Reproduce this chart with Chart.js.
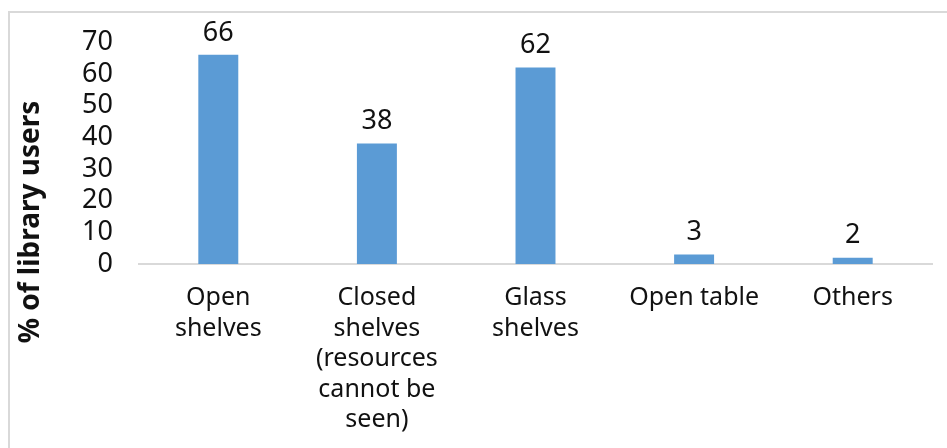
<!DOCTYPE html>
<html>
<head>
<meta charset="utf-8">
<script src="https://cdn.jsdelivr.net/npm/chart.js@4"></script>
<style>
  html, body { margin: 0; padding: 0; background: #fff; }
  #wrap { position: relative; width: 947px; height: 448px; overflow: hidden; }
  #frame {
    position: absolute; left: 8px; top: 11px; width: 960px; height: 460px;
    border-top: 2px solid #d9d9d9; border-left: 2px solid #d9d9d9;
    box-sizing: border-box;
  }
  #chart { position: absolute; left: 0; top: 0; }
</style>
</head>
<body>
<div id="wrap">
  <div id="frame"></div>
  <canvas id="chart" width="947" height="448"></canvas>
</div>
<script>
// Chart data
const categories = [
  ['Open', 'shelves'],
  ['Closed', 'shelves', '(resources', 'cannot be', 'seen)'],
  ['Glass', 'shelves'],
  'Open table',
  'Others'
];
const percentUsers = [66, 38, 62, 3, 2];
const yTicks = [0, 10, 20, 30, 40, 50, 60, 70];
const yTitle = '% of library users';

const FONT = '"Noto Sans", "Open Sans", sans-serif';
const BAR_COLOR = '#5b9bd5';
const TEXT_COLOR = '#111';

// Value labels above each bar
const valueLabels = {
  id: 'valueLabels',
  afterDatasetsDraw(chart) {
    const ctx = chart.ctx;
    const meta = chart.getDatasetMeta(0);
    ctx.save();
    ctx.font = '27px ' + FONT;
    ctx.fillStyle = TEXT_COLOR;
    ctx.textAlign = 'center';
    ctx.textBaseline = 'middle';
    meta.data.forEach((bar, i) => {
      ctx.fillText(String(percentUsers[i]), bar.x, bar.y - 22);
    });
    ctx.restore();
  }
};

// Y axis title, centred on the whole frame rather than the plot
const sideTitle = {
  id: 'sideTitle',
  afterDraw(chart) {
    const ctx = chart.ctx;
    ctx.save();
    ctx.translate(31, 222);
    ctx.rotate(-Math.PI / 2);
    ctx.font = 'bold 28px ' + FONT;
    ctx.fillStyle = TEXT_COLOR;
    ctx.textAlign = 'center';
    ctx.textBaseline = 'middle';
    ctx.fillText(yTitle, 0, 0);
    ctx.restore();
  }
};

new Chart(document.getElementById('chart'), {
  type: 'bar',
  data: {
    labels: categories,
    datasets: [{
      data: percentUsers,
      backgroundColor: BAR_COLOR,
      borderWidth: 0,
      barPercentage: 0.252,
      categoryPercentage: 1
    }]
  },
  options: {
    responsive: false,
    animation: false,
    layout: { padding: { top: 41, right: 15, left: 0, bottom: 0 } },
    plugins: {
      legend: { display: false },
      tooltip: { enabled: false }
    },
    scales: {
      x: {
        grid: { display: false, drawTicks: false },
        border: { display: true, color: '#d9d9d9', width: 2 },
        ticks: {
          color: TEXT_COLOR,
          font: { family: FONT, size: 25, lineHeight: 1.22 },
          padding: 19,
          maxRotation: 0,
          autoSkip: false
        },
        afterFit(scale) { scale.height = 184; }
      },
      y: {
        min: 0,
        max: 70,
        grid: { display: false, drawTicks: false },
        border: { display: false },
        afterBuildTicks(scale) {
          scale.ticks = yTicks.map(v => ({ value: v }));
        },
        ticks: {
          color: TEXT_COLOR,
          font: { family: FONT, size: 27 },
          padding: 26,
          autoSkip: false
        },
        afterFit(scale) { scale.width = 139; }
      }
    }
  },
  plugins: [valueLabels, sideTitle]
});
</script>
</body>
</html>
